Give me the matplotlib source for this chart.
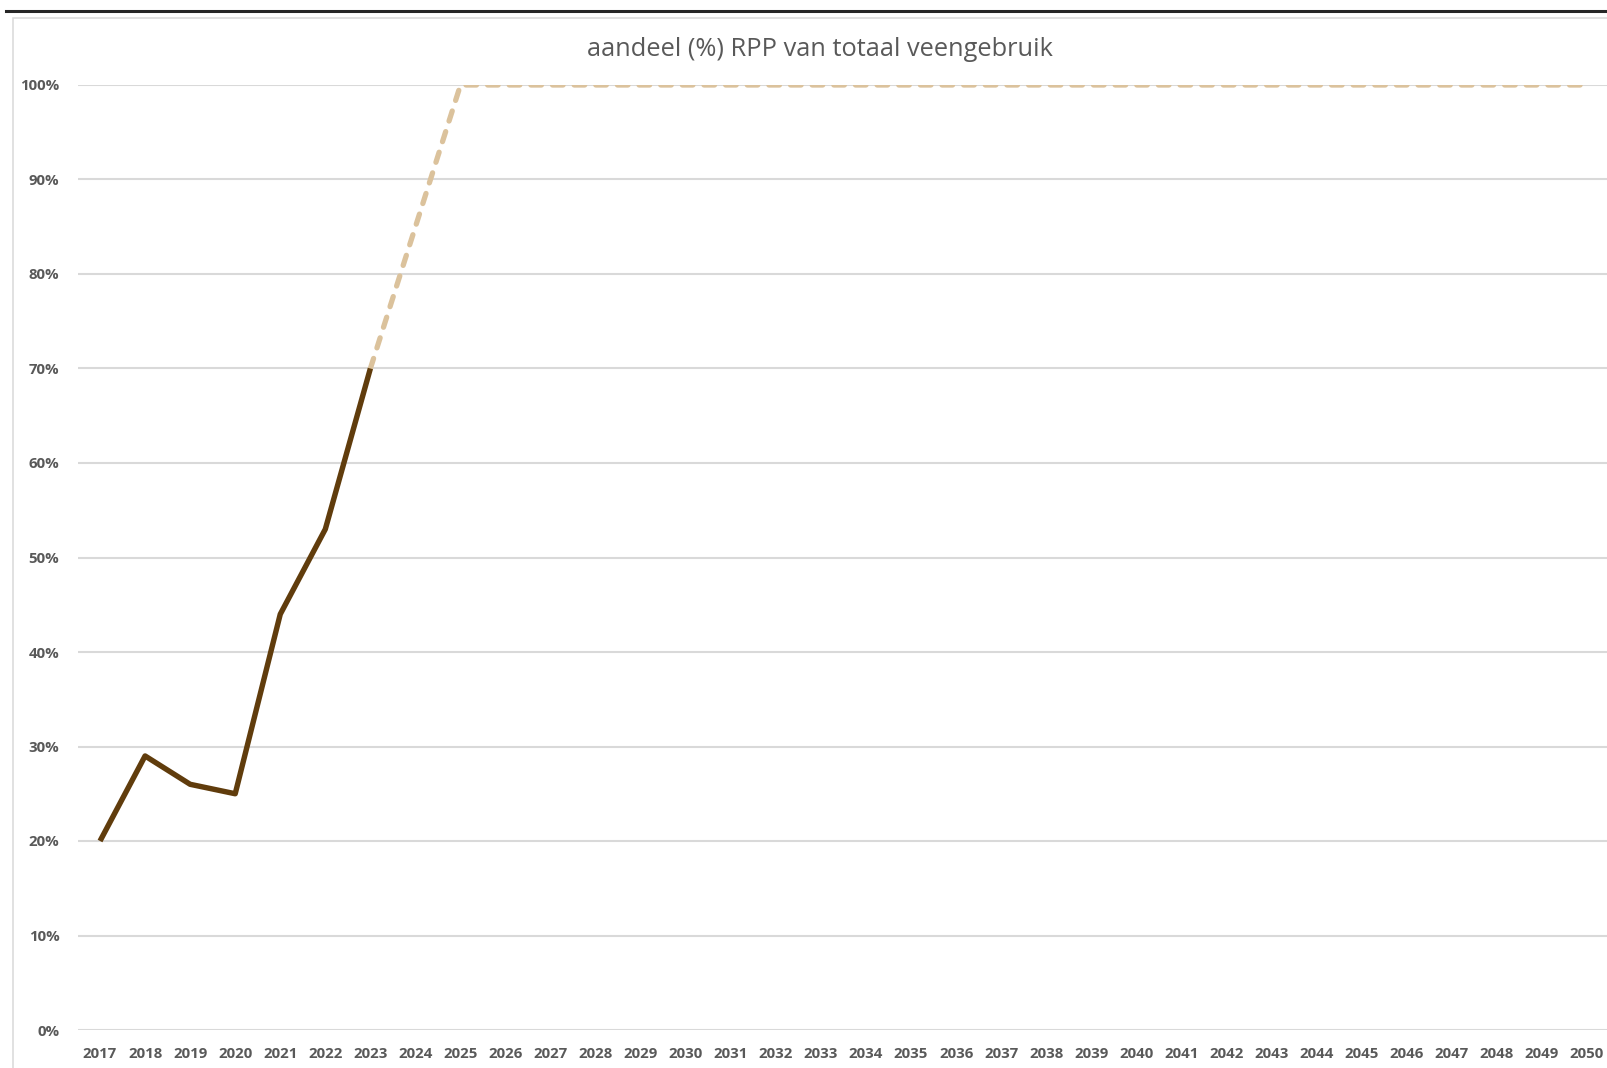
import numpy as np
import matplotlib

matplotlib.use("Agg")
import matplotlib.pyplot as plt
from matplotlib.patches import Rectangle
from matplotlib.lines import Line2D
from matplotlib.ticker import PercentFormatter

# data
years = list(range(2017, 2051))
actual_years = [2017, 2018, 2019, 2020, 2021, 2022, 2023]
actual_pct = [20, 29, 26, 25, 44, 53, 70]
target_years = list(range(2023, 2051))
target_pct = [70, 85] + [100] * 26
y_ticks = list(range(0, 101, 10))

TITLE = "aandeel (%) RPP van totaal veengebruik"
INK = "#595959"
GRID = "#D9D9D9"
BROWN = "#603C0C"
TAN = "#DBC29C"

plt.rcParams.update({
    "font.family": ["Open Sans", "DejaVu Sans"],
    "figure.facecolor": "white",
    "axes.facecolor": "white",
})

W, H = 1607, 1068
fig = plt.figure(figsize=(W / 100, H / 100), dpi=100)

# outer decoration: dark rule on top and the light chart border
fig.add_artist(Line2D([6 / W, 1.0], [1 - 10.7 / H] * 2, color="#262626", lw=2.2,
                      transform=fig.transFigure))
fig.add_artist(Rectangle((12.7 / W, -0.05), 1.1, 1 - 17.7 / H + 0.05, fill=False,
                         edgecolor=GRID, lw=1.1, transform=fig.transFigure))

left, right = 77.5 / W, 1609.5 / W
bottom, top = 1 - 1030 / H, 1 - 85 / H
ax = fig.add_axes([left, bottom, right - left, top - bottom])

idx = {y: i for i, y in enumerate(years)}
ax.plot([idx[y] for y in target_years], target_pct, color=TAN, lw=3.8,
        linestyle=(0, (2.0, 2.1)), dash_capstyle="round", dash_joinstyle="round", zorder=3)
ax.plot([idx[y] for y in actual_years], actual_pct, color=BROWN, lw=3.9,
        solid_joinstyle="round", solid_capstyle="butt", zorder=4)

ax.set_xlim(-0.5, len(years) - 0.5)
ax.set_ylim(0, 100)
ax.set_yticks(y_ticks)
ax.yaxis.set_major_formatter(PercentFormatter(decimals=0))
ax.set_xticks(range(len(years)))
ax.set_xticklabels([str(y) for y in years])
ax.yaxis.grid(True, color=GRID, lw=1.5)
ax.set_axisbelow(True)
for s in ax.spines.values():
    s.set_visible(False)
ax.tick_params(axis="both", length=0, colors=INK, labelsize=10.8)
ax.tick_params(axis="y", pad=13)
ax.tick_params(axis="x", pad=12.5)
for lab in ax.get_xticklabels() + ax.get_yticklabels():
    lab.set_fontweight("bold")

fig.text(820 / W, 1 - 49.5 / H, TITLE, ha="center", va="center", fontsize=18.3, color=INK)

fig.savefig("out.png", dpi=100)
